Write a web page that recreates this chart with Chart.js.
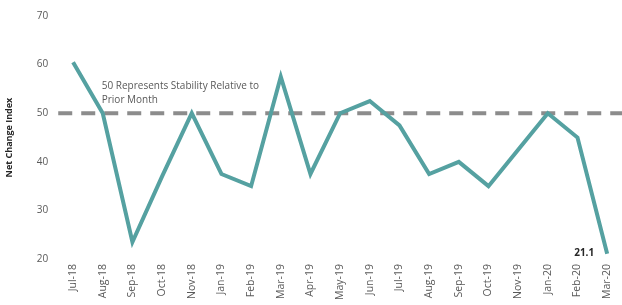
<!DOCTYPE html>
<html>
<head>
<meta charset="utf-8">
<script src="https://cdn.jsdelivr.net/npm/chart.js@4"></script>
<style>
  html, body { margin: 0; padding: 0; background: #fff; }
  #wrap { width: 622px; height: 305px; position: relative; }
</style>
</head>
<body>
<div id="wrap"><canvas id="chart"></canvas></div>
<script>
const months = ["Jul-18", "Aug-18", "Sep-18", "Oct-18", "Nov-18", "Jan-19", "Feb-19", "Mar-19", "Apr-19",
  "May-19", "Jun-19", "Jul-19", "Aug-19", "Sep-19", "Oct-19", "Nov-19", "Jan-20", "Feb-20", "Mar-20"];
const indexValues = [60.5, 50, 23.5, 37, 50, 37.5, 35, 57.5, 37.5,
  50, 52.5, 47.5, 37.5, 40, 35, 42.5, 50, 45, 21.1];
const stabilityLevel = 50;
const yTicks = [20, 30, 40, 50, 60, 70];
const noteLines = ["50 Represents Stability Relative to", "Prior Month"];

const FONT = "'Open Sans', 'Noto Sans', sans-serif";

// dashed reference line at 50 across the full plot + the note text
const stabilityLine = {
  id: "stabilityLine",
  beforeDatasetsDraw(chart) {
    const { ctx, chartArea, scales } = chart;
    const y = scales.y.getPixelForValue(stabilityLevel);
    ctx.save();
    ctx.strokeStyle = "#8c8c8c";
    ctx.lineWidth = 4;
    ctx.setLineDash([14, 9]);
    ctx.beginPath();
    ctx.moveTo(chartArea.left, y);
    ctx.lineTo(chartArea.right, y);
    ctx.stroke();
    ctx.setLineDash([]);
    ctx.fillStyle = "#595959";
    ctx.font = "10px " + FONT;
    ctx.textBaseline = "middle";
    const x = scales.x.getPixelForValue(1) - 1;
    ctx.fillText(noteLines[0], x, y - 27);
    ctx.fillText(noteLines[1], x, y - 13);
    ctx.restore();
  },
};

// value label for the last point
const lastLabel = {
  id: "lastLabel",
  afterDatasetsDraw(chart) {
    const { ctx, scales } = chart;
    const i = indexValues.length - 1;
    const x = scales.x.getPixelForValue(i);
    const y = scales.y.getPixelForValue(indexValues[i]);
    ctx.save();
    ctx.fillStyle = "#262626";
    ctx.font = "bold 10px " + FONT;
    ctx.textAlign = "right";
    ctx.textBaseline = "middle";
    ctx.fillText(indexValues[i].toFixed(1), x - 13, y - 1);
    ctx.restore();
  },
};

new Chart(document.getElementById("chart"), {
  type: "line",
  data: {
    labels: months,
    datasets: [{
      data: indexValues,
      borderColor: "#55a1a1",
      borderWidth: 4,
      pointRadius: 0,
      tension: 0,
      borderJoinStyle: "miter",
    }],
  },
  options: {
    responsive: true,
    maintainAspectRatio: false,
    animation: false,
    layout: { padding: { top: 2, right: 0, left: 4, bottom: 0 } },
    plugins: { legend: { display: false }, tooltip: { enabled: false } },
    scales: {
      x: {
        offset: true,
        grid: { display: false, drawTicks: false },
        border: { display: false },
        ticks: {
          color: "#595959",
          font: { family: FONT, size: 10.5 },
          minRotation: 90,
          maxRotation: 90,
          autoSkip: false,
          padding: 5,
        },
        afterFit: (axis) => { axis.paddingRight = 0; },
      },
      y: {
        min: yTicks[0],
        max: yTicks[yTicks.length - 1],
        afterBuildTicks: (axis) => { axis.ticks = yTicks.map((v) => ({ value: v })); },
        grid: { display: false, drawTicks: false },
        border: { display: false },
        ticks: {
          color: "#595959",
          font: { family: FONT, size: 10 },
          padding: 10,
        },
        title: {
          display: true,
          text: "Net Change Index",
          color: "#262626",
          font: { family: FONT, size: 9, weight: "bold" },
          padding: { top: 0, bottom: 12 },
        },
      },
    },
  },
  plugins: [stabilityLine, lastLabel],
});
</script>
</body>
</html>
